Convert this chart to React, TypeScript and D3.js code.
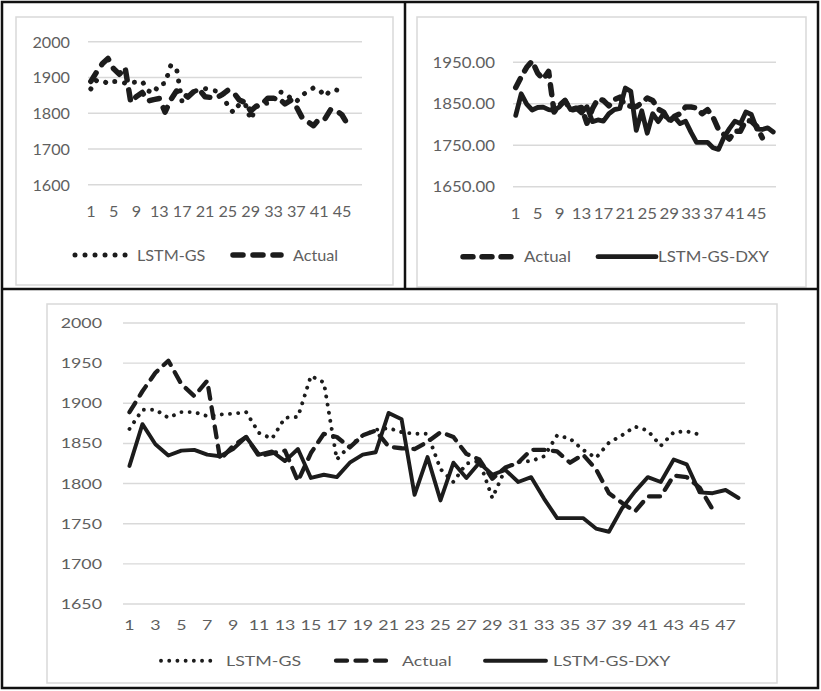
import React from 'react';
import * as d3 from 'd3';

const categories: string[] = Array.from({ length: 48 }, (_, i) => String(i + 1));

const lstmGS = [1868, 1892, 1892, 1882, 1889, 1889, 1884, 1886, 1887, 1889, 1863, 1856, 1882, 1883, 1934, 1926, 1830, 1847, 1860, 1867, 1869, 1864, 1862, 1862, 1818, 1802, 1825, 1828, 1782, 1818, 1827, 1828, 1834, 1860, 1856, 1842, 1832, 1851, 1860, 1871, 1866, 1847, 1864, 1865, 1861];

const actual = [1889, 1915, 1938, 1953, 1924, 1909, 1928, 1830, 1847, 1858, 1834, 1838, 1841, 1803, 1838, 1862, 1858, 1845, 1860, 1866, 1846, 1844, 1843, 1852, 1864, 1858, 1837, 1830, 1806, 1820, 1826, 1842, 1842, 1840, 1826, 1836, 1818, 1788, 1776, 1765, 1784, 1784, 1810, 1808, 1795, 1768];

const lstmGSDXY = [1822, 1874, 1849, 1835, 1841, 1842, 1836, 1834, 1843, 1858, 1836, 1840, 1828, 1843, 1807, 1811, 1808, 1826, 1836, 1839, 1888, 1880, 1786, 1833, 1779, 1826, 1807, 1826, 1811, 1817, 1802, 1808, 1781, 1757, 1757, 1757, 1744, 1740, 1769, 1790, 1808, 1802, 1830, 1824, 1789, 1788, 1792, 1782];

const ticksTopLeft = [1600, 1700, 1800, 1900, 2000];
const ticksTopRight = [1650, 1750, 1850, 1950];
const ticksBottom = [1650, 1700, 1750, 1800, 1850, 1900, 1950, 2000];

const FONT = "Lato, 'Open Sans', 'Noto Sans', sans-serif";
const TEXT = '#5f5f5f';
const GRID = '#d9d9d9';
const INK = '#1c1c1c';

type LineStyle = { width: number; dash?: string };
type SeriesDef = { label: string; values: number[]; style: LineStyle };
type LegendDef = { label: string; style: LineStyle; x0: number; x1: number; tx: number };

function Txt(props: { x: number; y: number; sx: number; fs: number; anchor: string; children: React.ReactNode }) {
  const { x, y, sx, fs, anchor, children } = props;
  return (
    <text
      transform={`translate(${x},${y}) scale(${sx},1)`}
      textAnchor={anchor as any}
      fontFamily={FONT}
      fontSize={fs}
      fill={TEXT}
    >
      {children}
    </text>
  );
}

function Panel(props: {
  box: { x: number; y: number; w: number; h: number };
  plot: { x0: number; x1: number; y0: number; y1: number };
  domain: [number, number];
  ticks: number[];
  fmt: (v: number) => string;
  step: number;
  fs: number;
  sx: number;
  yLabelX: number;
  xLabelY: number;
  series: SeriesDef[];
  legendY: number;
  legend: LegendDef[];
}) {
  const { box, plot, domain, ticks, fmt, step, fs, sx, yLabelX, xLabelY, series, legendY, legend } = props;
  const x = d3.scaleBand<string>().domain(categories).range([plot.x0, plot.x1]);
  const y = d3.scaleLinear().domain(domain).range([plot.y1, plot.y0]);
  const cx = (c: string) => (x(c) as number) + x.bandwidth() / 2;
  const cap = fs * 0.72;
  const line = d3
    .line<number>()
    .x((_, i) => cx(categories[i]))
    .y((d) => y(d));
  return (
    <g>
      <rect x={box.x} y={box.y} width={box.w} height={box.h} fill="#fff" stroke={GRID} strokeWidth={1.5} />
      {ticks.map((t) => (
        <line key={'g' + t} x1={plot.x0} x2={plot.x1} y1={y(t)} y2={y(t)} stroke={GRID} strokeWidth={1.4} />
      ))}
      {ticks.map((t) => (
        <Txt key={'y' + t} x={yLabelX} y={y(t) + cap / 2} sx={sx} fs={fs} anchor="end">
          {fmt(t)}
        </Txt>
      ))}
      {categories
        .filter((_, i) => i % step === 0)
        .map((c) => (
          <Txt key={'x' + c} x={cx(c)} y={xLabelY} sx={sx} fs={fs} anchor="middle">
            {c}
          </Txt>
        ))}
      {series.map((s) => (
        <path
          key={s.label}
          d={line(s.values) || ''}
          fill="none"
          stroke={INK}
          strokeWidth={s.style.width}
          strokeDasharray={s.style.dash}
          strokeLinecap="round"
          strokeLinejoin="round"
        />
      ))}
      {legend.map((l) => (
        <g key={'l' + l.label}>
          <line
            x1={l.x0}
            x2={l.x1}
            y1={legendY}
            y2={legendY}
            stroke={INK}
            strokeWidth={l.style.width}
            strokeDasharray={l.style.dash}
            strokeLinecap="round"
          />
          <Txt x={l.tx} y={legendY + cap / 2} sx={sx} fs={fs} anchor="start">
            {l.label}
          </Txt>
        </g>
      ))}
    </g>
  );
}

export default function App() {
  const fmtInt = (v: number) => d3.format('d')(v);
  const fmt2 = (v: number) => d3.format('.2f')(v);

  const tlDot: LineStyle = { width: 5, dash: '0.01 10' };
  const tlDash: LineStyle = { width: 5.5, dash: '10 10' };
  const trDash: LineStyle = { width: 5.5, dash: '10 9' };
  const trSolid: LineStyle = { width: 4.8 };
  const bDot: LineStyle = { width: 3.9, dash: '0.01 8.2' };
  const bDash: LineStyle = { width: 4.3, dash: '11 8.5' };
  const bSolid: LineStyle = { width: 3.9 };

  return (
    <svg
      width={821}
      height={691}
      style={{ position: 'absolute', left: 0, top: 0, background: '#fff' }}
    >
      <rect x={0} y={0} width={821} height={691} fill="#fff" />
      <Panel
        box={{ x: 16, y: 17, w: 377, h: 268 }}
        plot={{ x0: 88, x1: 362, y0: 41.7, y1: 184.7 }}
        domain={[1600, 2000]}
        ticks={ticksTopLeft}
        fmt={fmtInt}
        step={4}
        fs={16.2}
        sx={1}
        yLabelX={70}
        xLabelY={216.5}
        series={[
          { label: 'LSTM-GS', values: lstmGS, style: tlDot },
          { label: 'Actual', values: actual, style: tlDash },
        ]}
        legendY={255}
        legend={[
          { label: 'LSTM-GS', style: tlDot, x0: 75, x1: 127, tx: 137 },
          { label: 'Actual', style: tlDash, x0: 233, x1: 281, tx: 293 },
        ]}
      />
      <Panel
        box={{ x: 417, y: 17, w: 389, h: 270 }}
        plot={{ x0: 513, x1: 776, y0: 62.3, y1: 186.7 }}
        domain={[1650, 1950]}
        ticks={ticksTopRight}
        fmt={fmt2}
        step={4}
        fs={15.3}
        sx={1.1}
        yLabelX={495}
        xLabelY={218.5}
        series={[
          { label: 'Actual', values: actual, style: trDash },
          { label: 'LSTM-GS-DXY', values: lstmGSDXY, style: trSolid },
        ]}
        legendY={256.7}
        legend={[
          { label: 'Actual', style: trDash, x0: 463, x1: 512, tx: 524 },
          { label: 'LSTM-GS-DXY', style: trSolid, x0: 598, x1: 656, tx: 658 },
        ]}
      />
      <Panel
        box={{ x: 47, y: 304, w: 730, h: 379 }}
        plot={{ x0: 123, x1: 745, y0: 323, y1: 604 }}
        domain={[1650, 2000]}
        ticks={ticksBottom}
        fmt={fmtInt}
        step={2}
        fs={13.7}
        sx={1.3}
        yLabelX={102}
        xLabelY={630}
        series={[
          { label: 'LSTM-GS', values: lstmGS, style: bDot },
          { label: 'Actual', values: actual, style: bDash },
          { label: 'LSTM-GS-DXY', values: lstmGSDXY, style: bSolid },
        ]}
        legendY={660.7}
        legend={[
          { label: 'LSTM-GS', style: bDot, x0: 161, x1: 217, tx: 226 },
          { label: 'Actual', style: bDash, x0: 336, x1: 391, tx: 402 },
          { label: 'LSTM-GS-DXY', style: bSolid, x0: 485, x1: 546, tx: 553 },
        ]}
      />
      <rect x={2} y={2} width={816} height={686} fill="none" stroke="#111" strokeWidth={2.5} />
      <line x1={405} x2={405} y1={2} y2={289} stroke="#111" strokeWidth={2.5} />
      <line x1={2} x2={818} y1={289} y2={289} stroke="#111" strokeWidth={2.5} />
    </svg>
  );
}
